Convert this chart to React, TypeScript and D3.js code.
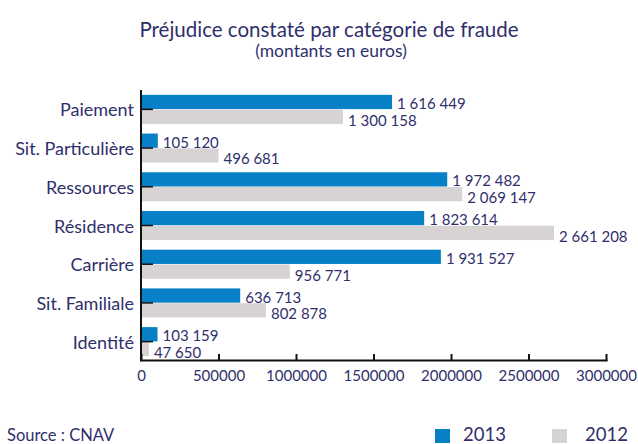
import React from "react";
import * as d3 from "d3";

const categories = ["Paiement", "Sit. Particulière", "Ressources", "Résidence", "Carrière", "Sit. Familiale", "Identité"];
const values2013 = [1616449, 105120, 1972482, 1823614, 1931527, 636713, 103159];
const values2012 = [1300158, 496681, 2069147, 2661208, 956771, 802878, 47650];
const seriesNames = ["2013", "2012"];
const xTicks = [0, 500000, 1000000, 1500000, 2000000, 2500000, 3000000];

const W = 638, H = 444;
const BLUE = "#0780c8";
const GRAY = "#d7d3d2";
const TEXT = "#2f2f6b";
const FONT = "Lato, 'Open Sans', sans-serif";

const fmt = (v: number) => String(v).replace(/\B(?=(\d{3})+(?!\d))/g, " ");

export default function App() {
  const x = d3.scaleLinear().domain([0, 3000000]).range([141.5, 606.5]);
  const y = d3.scaleBand<string>().domain(categories).range([90, 361]).paddingInner(0.25).paddingOuter(0.125);
  const inner = d3.scaleBand<string>().domain(seriesNames).range([0, y.bandwidth()]).paddingInner(0.035);
  const series = [values2013, values2012];
  const colors = [BLUE, GRAY];

  return (
    <svg width={W} height={H} style={{ position: "absolute", left: 0, top: 0, background: "#fff" }} fontFamily={FONT}>
      <text x={329} y={37} textAnchor="middle" fontSize={20.5} fill={TEXT}>Préjudice constaté par catégorie de fraude</text>
      <text x={331} y={57} textAnchor="middle" fontSize={17.5} fill={TEXT}>(montants en euros)</text>

      {series.map((vals, si) =>
        vals.map((v, i) => {
          const by = (y(categories[i]) as number) + (inner(seriesNames[si]) as number);
          const bh = inner.bandwidth();
          return (
            <g key={`${si}-${i}`}>
              <rect x={x(0) + 0.5} y={by} width={x(v) - x(0) - 0.5} height={bh} fill={colors[si]} />
              <text x={x(v) + 5} y={by + bh / 2 + (si === 0 ? 1 : 3)} dominantBaseline="central" fontSize={15} fill={TEXT}>{fmt(v)}</text>
            </g>
          );
        })
      )}

      {categories.map((c) => {
        const cy = (y(c) as number) + y.bandwidth() / 2;
        return (
          <g key={c}>
            <text x={134} y={cy} dominantBaseline="central" textAnchor="end" fontSize={18} fill={TEXT}>{c}</text>
            <line x1={141} x2={153} y1={cy} y2={cy} stroke="#111" strokeWidth={1.5} />
          </g>
        );
      })}

      <line x1={141} x2={141} y1={90} y2={361} stroke="#111" strokeWidth={2} />
      <line x1={140} x2={607.5} y1={360.5} y2={360.5} stroke="#111" strokeWidth={2} />
      {xTicks.map((t) => (
        <g key={t}>
          <line x1={x(t)} x2={x(t)} y1={354} y2={361} stroke="#111" strokeWidth={2} />
          <text x={x(t)} y={381} textAnchor="middle" fontSize={15} fill={TEXT}>{String(t)}</text>
        </g>
      ))}

      <text x={7} y={441} fontSize={16.5} fill={TEXT}>Source : CNAV</text>

      <rect x={435} y={429} width={15} height={14} fill={BLUE} />
      <text x={463} y={441} fontSize={18.5} fill={TEXT}>2013</text>
      <rect x={552} y={429} width={15} height={14} fill={GRAY} />
      <text x={585} y={441} fontSize={18.5} fill={TEXT}>2012</text>
    </svg>
  );
}
